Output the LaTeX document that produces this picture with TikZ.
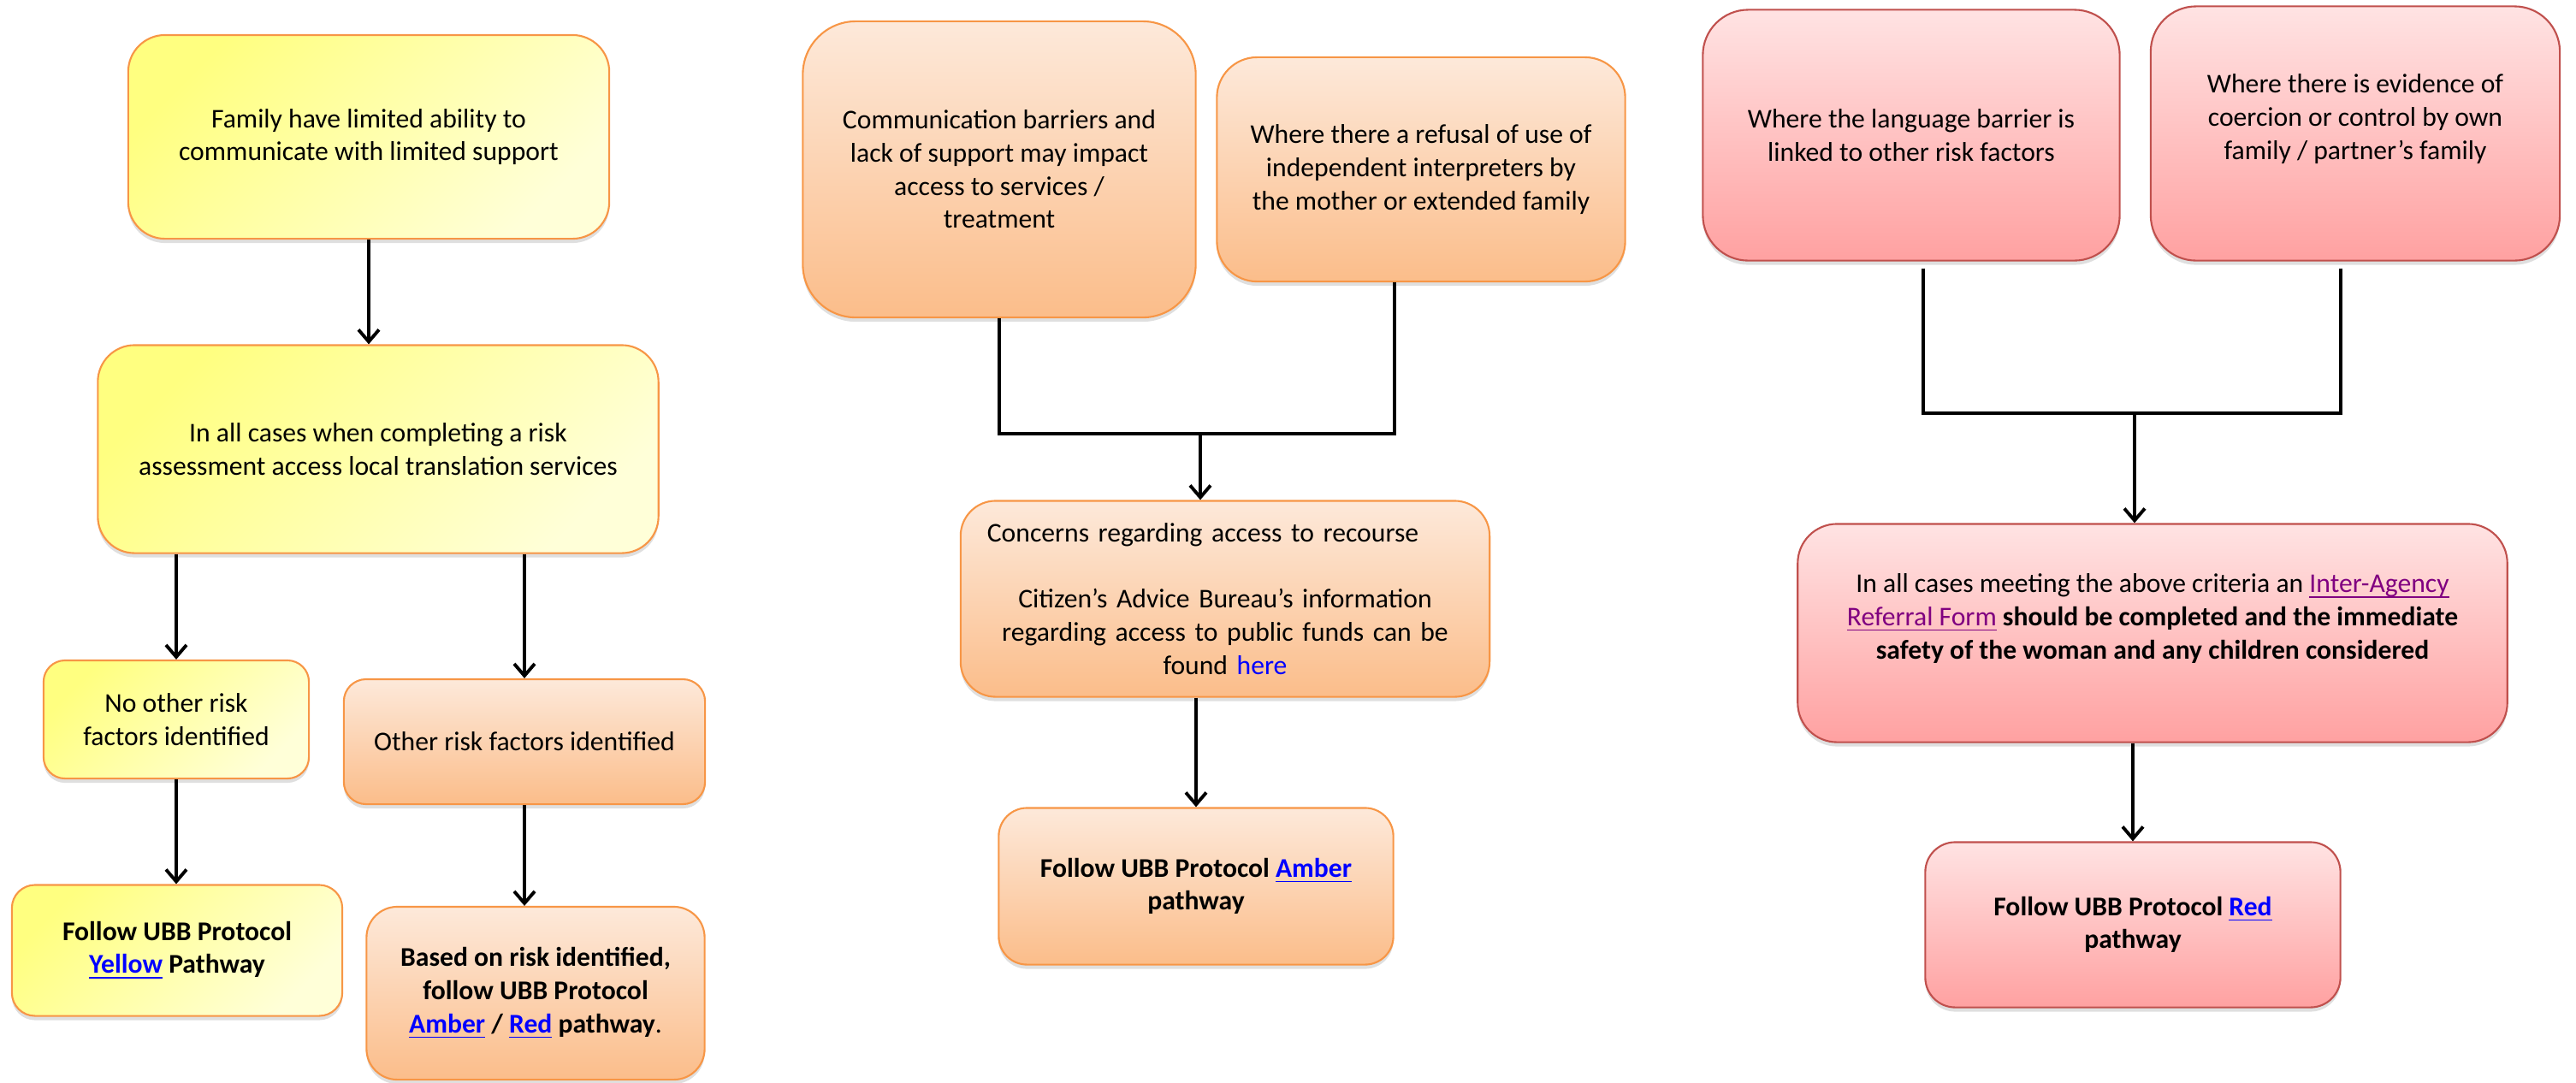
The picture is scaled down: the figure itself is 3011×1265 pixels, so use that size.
\documentclass[tikz,border=0pt]{standalone}
\usepackage{fontspec}
\setmainfont{Carlito}
\usetikzlibrary{arrows.meta,shadows}
\definecolor{ylwtop}{HTML}{FFFF80}
\definecolor{ylwbot}{HTML}{FFFFD8}
\definecolor{ambtop}{HTML}{FDE9DA}
\definecolor{ambbot}{HTML}{FBBD8A}
\definecolor{redtop}{HTML}{FFE3E3}
\definecolor{redbot}{HTML}{FFA1A1}
\definecolor{orangeline}{HTML}{F79646}
\definecolor{redline}{HTML}{C0504D}
\definecolor{linkblue}{HTML}{0000FF}
\definecolor{linkpurple}{HTML}{800080}
\newcommand{\lnk}[1]{\textcolor{linkblue}{\underline{\smash{#1}}}}
\newcommand{\vlnk}[1]{\textcolor{linkpurple}{\underline{\smash{#1}}}}
\tikzset{
  box/.style={draw, line width=0.6pt, align=center, inner sep=0pt,
    font=\fontsize{9}{11}\selectfont,
    drop shadow={shadow xshift=0pt, shadow yshift=-0.05cm, opacity=0.25}},
  yellowbox/.style={box, draw=orangeline, top color=ylwtop, bottom color=ylwbot, shading angle=45},
  amberbox/.style={box, draw=orangeline, top color=ambtop, bottom color=ambbot},
  redbox/.style={box, draw=redline, top color=redtop, bottom color=redbot},
  arr/.style={-{Straight Barb[length=1.4mm,width=2.4mm]}, line width=1.1pt},
  link/.style={line width=1.1pt}
}
\begin{document}
\begin{tikzpicture}[x=0.01cm, y=-0.01cm]
  \useasboundingbox (0,0) rectangle (3011,1265);
  % yellow column
  \node[yellowbox, minimum width=5.62cm, minimum height=2.38cm, rounded corners=0.43cm] (fam) at (431,160)
    {Family have limited ability to\\communicate with limited support};
  \node[yellowbox, minimum width=6.55cm, minimum height=2.43cm, rounded corners=0.43cm] (all) at (442,525)
    {In all cases when completing a risk\\assessment access local translation services};
  \node[yellowbox, minimum width=3.10cm, minimum height=1.38cm, rounded corners=0.25cm] (none) at (206,841)
    {No other risk\\factors identified};
  \node[amberbox, minimum width=4.22cm, minimum height=1.46cm, rounded corners=0.26cm] (other) at (613,867)
    {Other risk factors identified};
  \node[yellowbox, minimum width=3.86cm, minimum height=1.53cm, rounded corners=0.27cm] (yel) at (207,1111)
    {\textbf{Follow UBB Protocol}\\\textbf{\lnk{Yellow} Pathway}};
  \node[amberbox, minimum width=3.95cm, minimum height=2.02cm, rounded corners=0.36cm] (based) at (626,1161)
    {\textbf{Based on risk identified,}\\\textbf{follow UBB Protocol}\\\textbf{\lnk{Amber} / \lnk{Red} pathway}.};
  \draw[arr] (fam.south) -- (fam.south |- all.north);
  \draw[arr] (none.north |- all.south) -- (none.north);
  \draw[arr] (other.north |- all.south) -- (other.north);
  \draw[arr] (none.south) -- (none.south |- yel.north);
  \draw[arr] (other.south) -- (other.south |- based.north);
  % amber column
  \node[amberbox, minimum width=4.59cm, minimum height=3.46cm, rounded corners=0.62cm] (comm) at (1168,198)
    {Communication barriers and\\lack of support may impact\\access to services /\\treatment};
  \node[amberbox, minimum width=4.77cm, minimum height=2.62cm, rounded corners=0.47cm] (refuse) at (1661,198)
    {Where there a refusal of use of\\independent interpreters by\\the mother or extended family};
  \node[amberbox, minimum width=6.18cm, minimum height=2.29cm, rounded corners=0.41cm,
    text width=5.56cm, inner xsep=0.31cm] (recourse) at (1432,700)
    {\makebox[5.56cm][l]{Concerns regarding access to recourse}\\[11pt]
     Citizen’s Advice Bureau’s information\\regarding access to public funds can be\\found \textcolor{linkblue}{here}};
  \node[amberbox, minimum width=4.61cm, minimum height=1.83cm, rounded corners=0.33cm] (amb) at (1398,1036)
    {\textbf{Follow UBB Protocol \lnk{Amber}}\\\textbf{pathway}};
  \coordinate (jm) at (1403,507);
  \draw[link] (comm.south) |- (jm);
  \draw[link] ([xshift=-0.31cm]refuse.south) |- (jm);
  \draw[arr] (jm) -- (jm |- recourse.north);
  \draw[arr] (amb.north |- recourse.south) -- (amb.north);
  % red column
  \node[redbox, minimum width=4.87cm, minimum height=2.93cm, rounded corners=0.53cm] (lang) at (2234,158)
    {Where the language barrier is\\linked to other risk factors};
  \node[redbox, minimum width=4.78cm, minimum height=2.97cm, rounded corners=0.53cm] (coer) at (2753,156)
    {Where there is evidence of\\coercion or control by own\\family / partner’s family\\~};
  \node[redbox, minimum width=8.29cm, minimum height=2.55cm, rounded corners=0.46cm] (crit) at (2516,740)
    {In all cases meeting the above criteria an \vlnk{Inter-Agency}\\
     \vlnk{Referral Form} \textbf{should be completed and the immediate}\\
     \textbf{safety of the woman and any children considered}\\~};
  \node[redbox, minimum width=4.85cm, minimum height=1.93cm, rounded corners=0.35cm] (redp) at (2493,1081)
    {\textbf{Follow UBB Protocol \lnk{Red}}\\\textbf{pathway}};
  \coordinate (jr) at (2495,483);
  \draw[link] ([xshift=0.14cm,yshift=-0.08cm]lang.south) |- (jr);
  \draw[link] ([xshift=-0.17cm,yshift=-0.08cm]coer.south) |- (jr);
  \draw[arr] (jr) -- (jr |- crit.north);
  \draw[arr] (redp.north |- crit.south) -- (redp.north);
\end{tikzpicture}
\end{document}
